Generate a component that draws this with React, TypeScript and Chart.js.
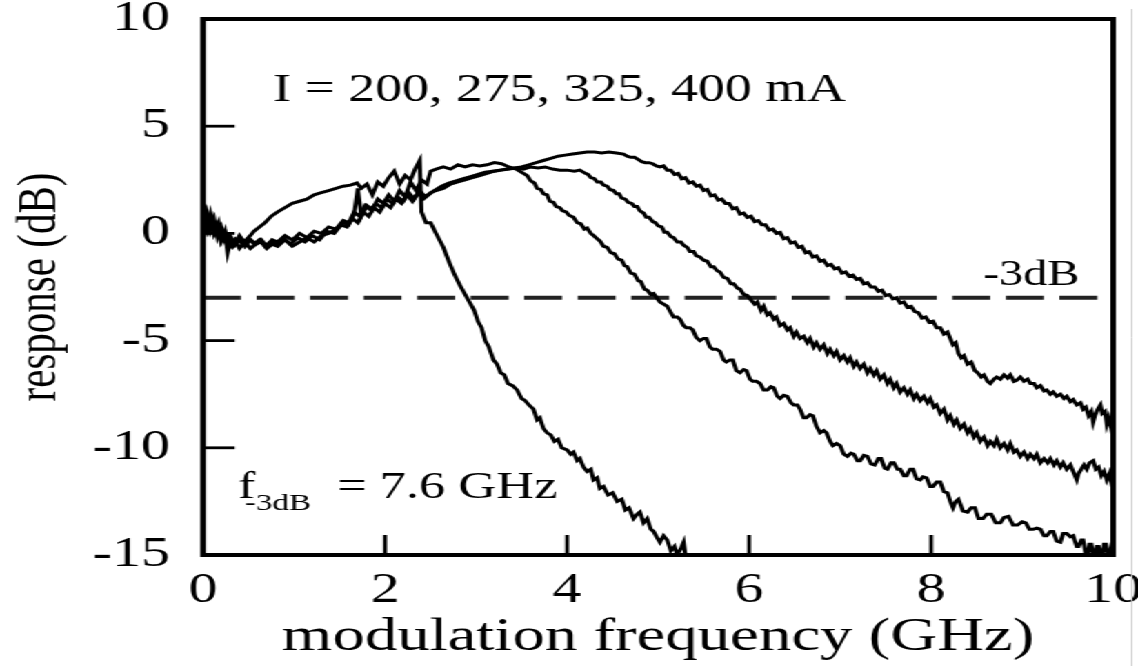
import React, { useEffect, useRef } from "react";
import { Chart, registerables } from "chart.js";

Chart.register(...registerables);

// ---------- data ----------
const X_MIN = 0;
const X_MAX = 10;
const X_STEP = 2;
const Y_MIN = -15;
const Y_MAX = 10;
const Y_STEP = 5;

const X_TITLE = "modulation frequency (GHz)";
const Y_TITLE = "response (dB)";

const CURRENT_LABEL = "I = 200, 275, 325, 400 mA";
const CURRENT_POS = [0.77, 6.16];

const THRESHOLD_DB = -3;
const THRESHOLD_LABEL = "-3dB";
const THRESHOLD_LABEL_POS = [8.57, -2.43];

const F3DB_MAIN = "f";
const F3DB_SUB = "-3dB";
const F3DB_VALUE = "= 7.6 GHz";
const F3DB_POS = [0.385, -12.36];
const F3DB_SUB_X = 0.46;
const F3DB_VALUE_X = 1.473;

const SERIES_LABELS = ["200 mA", "275 mA", "325 mA", "400 mA"];

const I200: number[][] = [
  [0, 0.6], [0.03, 1.0], [0.06, 0.2], [0.1, 0.7], [0.13, 0.1], [0.17, 0.5], [0.2, -0.3], [0.24, 0.1],
  [0.27, -0.9], [0.31, -0.2], [0.35, -0.5], [0.4, -0.1], [0.45, -0.4], [0.5, -0.2], [0.56, 0.1],
  [0.62, 0.3], [0.68, 0.5], [0.75, 0.8], [0.82, 1.0], [0.9, 1.2], [0.98, 1.4], [1.06, 1.5],
  [1.14, 1.6], [1.22, 1.8], [1.3, 1.9], [1.38, 2.0], [1.46, 2.1], [1.54, 2.2], [1.62, 2.25],
  [1.69, 2.35], [1.74, 2.1], [1.8, 2.3], [1.86, 1.8], [1.92, 2.4], [1.98, 2.2], [2.04, 2.6],
  [2.1, 2.9], [2.16, 2.3], [2.22, 2.7], [2.28, 2.5], [2.33, 3.0], [2.38, 3.4], [2.4, 1.0],
  [2.45, 0.5], [2.5, 0.5], [2.56, 0.0], [2.64, -0.65], [2.7, -1.3], [2.76, -1.9], [2.82, -2.4],
  [2.9, -3.0], [2.94, -3.3], [2.98, -3.6], [3.02, -4.1], [3.06, -4.4], [3.1, -5.0], [3.14, -5.3],
  [3.19, -5.9], [3.23, -6.1], [3.27, -6.5], [3.31, -6.6], [3.35, -7.0], [3.4, -7.1], [3.45, -7.3],
  [3.5, -7.7], [3.54, -7.8], [3.58, -8.0], [3.63, -8.2], [3.67, -8.7], [3.7, -8.6], [3.74, -9.1],
  [3.78, -9.3], [3.82, -9.4], [3.86, -9.7], [3.9, -9.6], [3.94, -10.0], [4.0, -10.1], [4.04, -10.3],
  [4.07, -10.2], [4.11, -10.6], [4.14, -10.5], [4.18, -10.9], [4.22, -11.1], [4.26, -11.0],
  [4.29, -11.5], [4.33, -11.4], [4.36, -11.9], [4.4, -11.8], [4.45, -12.2], [4.5, -12.1],
  [4.55, -12.5], [4.6, -12.4], [4.64, -12.9], [4.68, -12.8], [4.73, -13.3], [4.77, -13.1],
  [4.8, -13.0], [4.84, -13.5], [4.88, -13.3], [4.92, -13.8], [4.95, -13.9], [4.99, -14.2],
  [5.02, -14.4], [5.06, -14.1], [5.1, -14.3], [5.14, -14.8], [5.18, -14.6], [5.21, -15.0],
  [5.25, -14.7], [5.28, -14.4], [5.3, -15.0],
];

const I275: number[][] = [
  [0, 0.3], [0.04, 0.8], [0.08, 0.1], [0.12, 0.5], [0.16, -0.1], [0.2, 0.3], [0.25, -0.4], [0.3, -0.2],
  [0.35, -0.5], [0.4, -0.2], [0.46, -0.6], [0.52, -0.3], [0.58, -0.5], [0.64, -0.4], [0.7, -0.7],
  [0.76, -0.5], [0.82, -0.6], [0.9, -0.3], [0.98, -0.6], [1.06, -0.4], [1.14, -0.2], [1.22, -0.4],
  [1.3, -0.1], [1.38, 0.0], [1.46, 0.2], [1.54, 0.5], [1.6, 0.4], [1.66, 0.9], [1.7, 2.1], [1.74, 0.8],
  [1.8, 1.3], [1.86, 1.1], [1.92, 1.6], [1.98, 1.4], [2.04, 1.8], [2.1, 1.5], [2.16, 2.0], [2.22, 1.7],
  [2.28, 2.4], [2.34, 2.0], [2.4, 2.5], [2.46, 2.3], [2.5, 2.9], [2.56, 3.0], [2.64, 3.1], [2.72, 3.0],
  [2.8, 3.2], [2.88, 3.1], [2.96, 3.2], [3.04, 3.15], [3.12, 3.2], [3.2, 3.3], [3.28, 3.25],
  [3.36, 3.1], [3.44, 3.0], [3.52, 2.8], [3.56, 2.7], [3.6, 2.45], [3.64, 2.35], [3.67, 2.1],
  [3.71, 2.05], [3.74, 1.85], [3.78, 1.8], [3.81, 1.5], [3.85, 1.45], [3.88, 1.25], [3.92, 1.2],
  [3.95, 1.05], [3.99, 1.0], [4.02, 0.85], [4.07, 0.75], [4.11, 0.5], [4.15, 0.45], [4.19, 0.2],
  [4.22, 0.25], [4.26, 0.0], [4.29, -0.1], [4.33, -0.25], [4.36, -0.35], [4.4, -0.6], [4.44, -0.65],
  [4.48, -0.9], [4.52, -0.95], [4.56, -1.2], [4.6, -1.25], [4.63, -1.5], [4.66, -1.55], [4.7, -1.85],
  [4.74, -1.9], [4.78, -2.2], [4.81, -2.25], [4.85, -2.6], [4.88, -2.65], [4.92, -2.85],
  [4.95, -2.8], [5.02, -3.2], [5.06, -3.3], [5.1, -3.4], [5.14, -3.7], [5.17, -3.9], [5.21, -3.9],
  [5.24, -4.0], [5.28, -4.3], [5.31, -4.4], [5.35, -4.4], [5.38, -4.5], [5.42, -4.85], [5.46, -5.0],
  [5.5, -4.9], [5.53, -4.9], [5.57, -5.3], [5.6, -5.4], [5.64, -5.4], [5.68, -5.5], [5.72, -5.9],
  [5.75, -6.0], [5.79, -5.9], [5.82, -5.9], [5.86, -6.4], [5.9, -6.5], [5.94, -6.35], [5.97, -6.4],
  [6.01, -6.8], [6.04, -6.9], [6.08, -6.9], [6.12, -7.0], [6.16, -7.3], [6.2, -7.3], [6.24, -7.15],
  [6.27, -7.2], [6.31, -7.6], [6.34, -7.7], [6.38, -7.55], [6.42, -7.6], [6.46, -7.9], [6.49, -8.0],
  [6.53, -8.0], [6.56, -8.2], [6.6, -8.6], [6.63, -8.6], [6.67, -8.45], [6.7, -8.5], [6.74, -9.0],
  [6.78, -9.3], [6.82, -9.2], [6.85, -9.3], [6.89, -9.7], [6.92, -9.9], [6.96, -9.8], [7.0, -9.9],
  [7.04, -10.3], [7.08, -10.4], [7.12, -10.25], [7.15, -10.3], [7.19, -10.6], [7.22, -10.6],
  [7.26, -10.35], [7.3, -10.4], [7.34, -10.75], [7.38, -10.8], [7.42, -10.5], [7.45, -10.5],
  [7.49, -10.95], [7.52, -11.0], [7.56, -10.7], [7.59, -10.7], [7.63, -11.0], [7.66, -11.0],
  [7.7, -11.3], [7.73, -11.3], [7.77, -11.0], [7.8, -11.0], [7.84, -11.45], [7.88, -11.5],
  [7.91, -11.35], [7.95, -11.4], [7.99, -11.8], [8.02, -11.8], [8.06, -11.6], [8.1, -11.6],
  [8.14, -12.05], [8.18, -12.1], [8.21, -12.5], [8.24, -12.8], [8.27, -12.5], [8.3, -12.4],
  [8.35, -12.95], [8.4, -13.0], [8.44, -12.8], [8.48, -12.8], [8.52, -13.3], [8.57, -13.3],
  [8.61, -13.1], [8.66, -13.1], [8.71, -13.5], [8.76, -13.5], [8.8, -13.25], [8.85, -13.2],
  [8.9, -13.6], [8.95, -13.6], [9.0, -13.45], [9.04, -13.5], [9.08, -13.8], [9.12, -13.8],
  [9.16, -13.75], [9.2, -13.8], [9.24, -14.1], [9.27, -14.1], [9.31, -13.9], [9.34, -13.9],
  [9.38, -14.35], [9.42, -14.4], [9.45, -14.0], [9.49, -14.0], [9.53, -14.15], [9.56, -14.1],
  [9.6, -14.6], [9.62, -14.6], [9.65, -14.3], [9.67, -14.3], [9.7, -15], [9.72, -15], [9.74, -14.5],
  [9.76, -14.5], [9.78, -15], [9.8, -15], [9.82, -14.6], [9.84, -14.6], [9.86, -15], [9.88, -15],
  [9.9, -14.5], [9.92, -14.5], [9.94, -15], [9.96, -15], [9.98, -14.6], [10, -14.7],
];

const I325: number[][] = [
  [0, 0.8], [0.04, 0.2], [0.08, 0.9], [0.12, 0.0], [0.16, 0.4], [0.2, -0.4], [0.25, 0.0], [0.3, -0.6],
  [0.35, -0.3], [0.4, -0.7], [0.46, -0.4], [0.52, -0.7], [0.58, -0.5], [0.64, -0.3], [0.7, -0.6],
  [0.76, -0.3], [0.82, -0.4], [0.9, -0.1], [0.98, -0.3], [1.06, 0.0], [1.14, -0.2], [1.22, 0.1],
  [1.3, 0.0], [1.38, 0.3], [1.46, 0.2], [1.54, 0.6], [1.6, 0.5], [1.66, 1.0], [1.72, 0.8],
  [1.78, 1.3], [1.84, 1.1], [1.9, 1.4], [1.96, 1.2], [2.02, 1.6], [2.08, 1.4], [2.14, 1.7],
  [2.2, 1.5], [2.26, 1.9], [2.32, 1.6], [2.38, 2.0], [2.44, 1.7], [2.5, 1.9], [2.56, 2.0],
  [2.64, 2.1], [2.72, 2.3], [2.8, 2.4], [2.88, 2.5], [2.96, 2.6], [3.04, 2.7], [3.12, 2.8],
  [3.2, 2.9], [3.28, 2.95], [3.36, 3.0], [3.44, 3.05], [3.52, 3.0], [3.6, 3.1], [3.68, 3.05],
  [3.76, 3.1], [3.84, 3.0], [3.92, 2.95], [4.0, 2.95], [4.08, 2.9], [4.14, 2.95], [4.2, 2.8],
  [4.23, 2.75], [4.26, 2.6], [4.3, 2.55], [4.33, 2.4], [4.37, 2.4], [4.4, 2.25], [4.44, 2.2],
  [4.47, 2.05], [4.51, 2.0], [4.54, 1.85], [4.57, 1.85], [4.6, 1.65], [4.64, 1.6], [4.67, 1.45],
  [4.71, 1.4], [4.74, 1.25], [4.77, 1.25], [4.8, 1.05], [4.84, 0.95], [4.87, 0.75], [4.9, 0.75],
  [4.94, 0.55], [4.97, 0.5], [5.0, 0.35], [5.04, 0.3], [5.07, 0.05], [5.1, 0.05], [5.14, -0.15],
  [5.17, -0.2], [5.21, -0.4], [5.25, -0.4], [5.28, -0.55], [5.32, -0.65], [5.35, -0.85],
  [5.39, -0.85], [5.42, -1.05], [5.46, -1.1], [5.5, -1.25], [5.54, -1.3], [5.58, -1.55],
  [5.61, -1.55], [5.65, -1.75], [5.68, -1.8], [5.72, -2.05], [5.76, -2.1], [5.8, -2.35],
  [5.83, -2.35], [5.87, -2.55], [5.9, -2.6], [5.94, -2.85], [5.98, -2.9], [6.02, -3.1],
  [6.06, -3.3], [6.09, -3.2], [6.13, -3.6], [6.16, -3.4], [6.2, -3.8], [6.23, -3.7], [6.27, -4.0],
  [6.3, -3.9], [6.34, -4.3], [6.38, -4.2], [6.42, -4.5], [6.45, -4.4], [6.49, -4.8], [6.52, -4.6],
  [6.56, -4.9], [6.6, -4.8], [6.64, -5.1], [6.67, -4.9], [6.71, -5.3], [6.74, -5.1], [6.78, -5.4],
  [6.82, -5.2], [6.86, -5.6], [6.89, -5.4], [6.93, -5.7], [6.96, -5.5], [7.0, -5.9], [7.04, -5.7],
  [7.08, -6.0], [7.11, -5.8], [7.15, -6.2], [7.18, -6.0], [7.22, -6.3], [7.26, -6.1], [7.3, -6.5],
  [7.33, -6.3], [7.37, -6.6], [7.4, -6.4], [7.44, -6.8], [7.48, -6.6], [7.52, -7.0], [7.55, -6.8],
  [7.59, -7.2], [7.62, -7.0], [7.66, -7.4], [7.7, -7.2], [7.74, -7.5], [7.77, -7.3], [7.81, -7.7],
  [7.84, -7.5], [7.88, -7.8], [7.92, -7.6], [7.96, -7.9], [7.99, -7.7], [8.03, -8.1], [8.06, -8.0],
  [8.1, -8.4], [8.14, -8.2], [8.18, -8.7], [8.21, -8.5], [8.25, -8.9], [8.28, -8.7], [8.32, -9.1],
  [8.36, -8.9], [8.4, -9.3], [8.43, -9.1], [8.47, -9.5], [8.5, -9.3], [8.54, -9.7], [8.58, -9.5],
  [8.62, -9.9], [8.65, -9.7], [8.69, -9.9], [8.72, -9.6], [8.76, -10.0], [8.8, -9.8], [8.84, -10.1],
  [8.87, -9.8], [8.91, -10.2], [8.94, -10.1], [8.98, -10.4], [9.02, -10.2], [9.06, -10.5],
  [9.09, -10.3], [9.13, -10.5], [9.16, -10.3], [9.2, -10.7], [9.24, -10.5], [9.28, -10.7],
  [9.31, -10.5], [9.35, -10.8], [9.38, -10.6], [9.42, -10.9], [9.45, -10.7], [9.49, -11.0],
  [9.53, -10.8], [9.56, -11.1], [9.58, -11.3], [9.6, -11.5], [9.62, -11.2], [9.65, -11.0],
  [9.68, -10.8], [9.71, -11.0], [9.74, -10.7], [9.78, -10.6], [9.81, -11.0], [9.84, -10.9],
  [9.87, -11.3], [9.9, -11.1], [9.93, -11.5], [9.96, -11.2], [9.98, -11.6], [10, -11.4],
];

const I400: number[][] = [
  [0, 0.5], [0.04, 1.0], [0.08, 0.3], [0.12, 0.7], [0.16, -0.2], [0.2, 0.2], [0.24, -0.3], [0.28, -0.1],
  [0.33, -0.6], [0.38, -0.3], [0.44, -0.5], [0.5, -0.2], [0.56, -0.5], [0.62, -0.3], [0.68, -0.6],
  [0.74, -0.4], [0.8, -0.5], [0.88, -0.2], [0.96, -0.5], [1.04, -0.2], [1.12, -0.4], [1.2, -0.1],
  [1.28, -0.3], [1.36, 0.1], [1.44, 0.0], [1.52, 0.4], [1.58, 0.3], [1.64, 0.7], [1.7, 0.5],
  [1.76, 1.0], [1.82, 0.8], [1.88, 1.2], [1.94, 1.0], [2.0, 1.4], [2.06, 1.2], [2.12, 1.6],
  [2.18, 1.4], [2.24, 1.8], [2.3, 1.5], [2.36, 1.9], [2.42, 1.6], [2.48, 1.8], [2.54, 2.0],
  [2.62, 2.2], [2.7, 2.35], [2.78, 2.45], [2.86, 2.55], [2.94, 2.65], [3.02, 2.75], [3.1, 2.85],
  [3.18, 2.9], [3.26, 2.95], [3.34, 3.0], [3.42, 3.05], [3.5, 3.1], [3.58, 3.2], [3.66, 3.3],
  [3.74, 3.4], [3.82, 3.5], [3.9, 3.6], [3.98, 3.65], [4.06, 3.7], [4.14, 3.75], [4.22, 3.8],
  [4.3, 3.8], [4.38, 3.75], [4.46, 3.8], [4.54, 3.75], [4.62, 3.7], [4.66, 3.6], [4.7, 3.55],
  [4.74, 3.55], [4.78, 3.45], [4.82, 3.35], [4.86, 3.3], [4.9, 3.3], [4.94, 3.25], [4.98, 3.15],
  [5.02, 3.1], [5.06, 3.15], [5.1, 2.95], [5.14, 2.95], [5.18, 2.75], [5.22, 2.8], [5.26, 2.55],
  [5.3, 2.6], [5.34, 2.35], [5.38, 2.4], [5.42, 2.2], [5.46, 2.25], [5.5, 2.0], [5.54, 2.05],
  [5.58, 1.75], [5.62, 1.8], [5.66, 1.55], [5.7, 1.6], [5.74, 1.4], [5.78, 1.4], [5.82, 1.15],
  [5.86, 1.2], [5.9, 0.9], [5.94, 0.95], [5.98, 0.75], [6.02, 0.8], [6.06, 0.55], [6.1, 0.6],
  [6.14, 0.4], [6.18, 0.4], [6.22, 0.15], [6.26, 0.2], [6.3, 0.0], [6.34, 0.05], [6.38, -0.25],
  [6.42, -0.2], [6.46, -0.45], [6.5, -0.4], [6.54, -0.65], [6.58, -0.6], [6.62, -0.9], [6.66, -0.85],
  [6.7, -1.1], [6.74, -1.05], [6.78, -1.3], [6.82, -1.25], [6.86, -1.5], [6.9, -1.45], [6.94, -1.65],
  [6.98, -1.6], [7.02, -1.85], [7.06, -1.8], [7.1, -2.0], [7.14, -1.95], [7.18, -2.15], [7.22, -2.1],
  [7.26, -2.35], [7.3, -2.3], [7.34, -2.5], [7.38, -2.5], [7.42, -2.7], [7.46, -2.65], [7.5, -2.9],
  [7.54, -2.85], [7.58, -3.05], [7.62, -3.0], [7.66, -3.25], [7.7, -3.2], [7.74, -3.45],
  [7.78, -3.4], [7.82, -3.65], [7.86, -3.7], [7.9, -3.95], [7.94, -3.9], [7.98, -4.15], [8.02, -4.1],
  [8.06, -4.4], [8.1, -4.4], [8.14, -4.7], [8.18, -4.6], [8.21, -4.9], [8.24, -5.2], [8.27, -5.1],
  [8.3, -5.6], [8.33, -5.8], [8.36, -5.7], [8.4, -6.1], [8.44, -6.0], [8.48, -6.4], [8.51, -6.5],
  [8.55, -6.7], [8.58, -6.6], [8.62, -6.9], [8.65, -7.0], [8.69, -6.8], [8.72, -6.7], [8.76, -6.8],
  [8.8, -6.6], [8.84, -6.75], [8.87, -6.6], [8.91, -6.9], [8.94, -6.85], [8.98, -6.7], [9.02, -6.9],
  [9.06, -6.8], [9.09, -7.0], [9.13, -7.0], [9.16, -7.2], [9.2, -7.1], [9.24, -7.35], [9.27, -7.3],
  [9.31, -7.5], [9.34, -7.4], [9.38, -7.6], [9.42, -7.5], [9.46, -7.7], [9.49, -7.6], [9.53, -7.85],
  [9.56, -7.75], [9.6, -8.0], [9.64, -7.9], [9.67, -8.2], [9.7, -8.1], [9.73, -8.5], [9.76, -8.3],
  [9.78, -8.8], [9.8, -8.5], [9.83, -8.2], [9.86, -8.0], [9.88, -8.4], [9.91, -8.3], [9.93, -8.9],
  [9.95, -8.6], [9.97, -8.9], [9.99, -9.3], [10, -9.6],
];

const SERIES = [I200, I275, I325, I400];

// ---------- rendering ----------
const FONT = "'Liberation Serif', 'Times New Roman', serif";
const STRETCH = 1138 / 825;

const decor = {
  id: "decor",
  afterDatasetsDraw(chart: any) {
    const { ctx, chartArea: a, scales } = chart;
    const xs = scales.x;
    const ys = scales.y;
    ctx.save();
    ctx.strokeStyle = "#000";
    ctx.lineCap = "butt";
    ctx.lineWidth = 2.8;
    ys.ticks.forEach((t: any) => {
      if (t.value <= Y_MIN || t.value >= Y_MAX) return;
      const py = ys.getPixelForValue(t.value);
      ctx.beginPath();
      ctx.moveTo(a.left, py);
      ctx.lineTo(a.left + 23, py);
      ctx.stroke();
    });
    xs.ticks.forEach((t: any) => {
      if (t.value <= X_MIN || t.value >= X_MAX) return;
      const px = xs.getPixelForValue(t.value);
      ctx.beginPath();
      ctx.moveTo(px, a.bottom);
      ctx.lineTo(px, a.bottom - 20);
      ctx.stroke();
    });
    ctx.lineWidth = 4;
    ctx.strokeRect(a.left, a.top, a.right - a.left, a.bottom - a.top);

    ctx.fillStyle = "#000";
    ctx.textAlign = "left";
    ctx.textBaseline = "alphabetic";
    ctx.font = `39px ${FONT}`;
    ctx.fillText(CURRENT_LABEL, xs.getPixelForValue(CURRENT_POS[0]), ys.getPixelForValue(CURRENT_POS[1]));

    ctx.font = `35px ${FONT}`;
    ctx.fillText(THRESHOLD_LABEL, xs.getPixelForValue(THRESHOLD_LABEL_POS[0]), ys.getPixelForValue(THRESHOLD_LABEL_POS[1]));

    const by = ys.getPixelForValue(F3DB_POS[1]);
    ctx.font = `38px ${FONT}`;
    ctx.fillText(F3DB_MAIN, xs.getPixelForValue(F3DB_POS[0]), by);
    ctx.font = `24px ${FONT}`;
    ctx.fillText(F3DB_SUB, xs.getPixelForValue(F3DB_SUB_X), by + 12);
    ctx.font = `38px ${FONT}`;
    ctx.fillText(F3DB_VALUE, xs.getPixelForValue(F3DB_VALUE_X), by);

    // faint scan edge at the far right of the picture
    ctx.strokeStyle = "#c8c8c8";
    ctx.lineWidth = 1;
    ctx.beginPath();
    ctx.moveTo(a.right + 13.5, a.top - 10);
    ctx.lineTo(a.right + 13.5, chart.height);
    ctx.stroke();
    ctx.restore();
  },
};

export default function App() {
  const canvasRef = useRef<HTMLCanvasElement | null>(null);

  useEffect(() => {
    const canvas = canvasRef.current;
    if (!canvas) return;
    const datasets: any[] = SERIES.map((s, i) => ({
      label: SERIES_LABELS[i],
      data: s.map(([x, y]) => ({ x, y })),
      borderColor: "#000",
      borderWidth: 3,
      pointRadius: 0,
      tension: 0,
      fill: false,
    }));
    datasets.push({
      label: THRESHOLD_LABEL,
      data: [
        { x: X_MIN, y: THRESHOLD_DB },
        { x: X_MAX, y: THRESHOLD_DB },
      ],
      borderColor: "#222",
      borderWidth: 4,
      borderDash: [27.5, 11.3],
      pointRadius: 0,
      fill: false,
    });

    const chart = new Chart(canvas, {
      type: "line",
      data: { datasets },
      options: {
        animation: false,
        responsive: true,
        maintainAspectRatio: false,
        layout: { padding: { left: 0, right: 18, top: 19, bottom: 0 } },
        plugins: { legend: { display: false }, tooltip: { enabled: false } },
        scales: {
          x: {
            type: "linear",
            min: X_MIN,
            max: X_MAX,
            grid: { display: false, drawTicks: false },
            border: { display: false },
            ticks: {
              stepSize: X_STEP,
              color: "#000",
              padding: 11,
              maxRotation: 0,
              font: { family: FONT, size: 42 },
            },
            title: {
              display: true,
              text: X_TITLE,
              color: "#000",
              padding: { top: 0, bottom: 0 },
              font: { family: FONT, size: 47 },
            },
            afterFit: (scale: any) => {
              scale.height = 111;
              scale.paddingLeft = 0;
              scale.paddingRight = 0;
            },
          },
          y: {
            type: "linear",
            min: Y_MIN,
            max: Y_MAX,
            grid: { display: false, drawTicks: false },
            border: { display: false },
            ticks: {
              stepSize: Y_STEP,
              color: "#000",
              padding: 24,
              font: { family: FONT, size: 42 },
            },
            title: {
              display: true,
              text: Y_TITLE,
              color: "#000",
              padding: { top: 5, bottom: 0 },
              font: { family: FONT, size: 41 },
            },
            afterFit: (scale: any) => {
              scale.width = 147.2;
              scale.paddingTop = 0;
              scale.paddingBottom = 0;
            },
          },
        },
      },
      plugins: [decor],
    });
    return () => chart.destroy();
  }, []);

  return (
    <div
      style={{
        position: "fixed",
        left: 0,
        top: 0,
        width: 825,
        height: 666,
        transform: `scaleX(${STRETCH})`,
        transformOrigin: "0 0",
        background: "#fff",
      }}
    >
      <canvas ref={canvasRef} style={{ display: "block" }} />
    </div>
  );
}
